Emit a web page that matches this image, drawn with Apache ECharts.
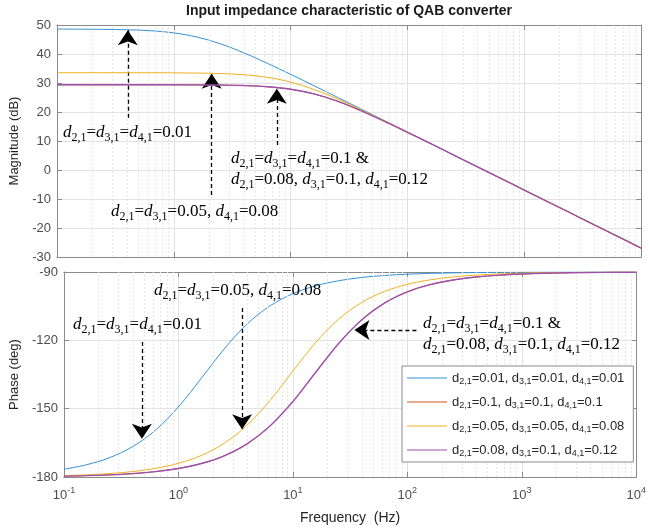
<!DOCTYPE html>
<html><head><meta charset="utf-8">
<script src="https://cdn.jsdelivr.net/npm/echarts@6/dist/echarts.min.js"></script>
<style>html,body{margin:0;padding:0;background:#fff}#c{width:649px;height:529px}</style>
</head><body><div id="c"></div>
<script>
// ---- data ----
const freq = [0.1,0.158,0.251,0.398,0.631,1,1.585,2.512,3.981,6.31,10,15.85,25.12,39.81,63.1,100,158.5,251.2,398.1,631,1000,1585,2512,3981,6310,10000];
const seriesNames = ['d2,1=0.01, d3,1=0.01, d4,1=0.01','d2,1=0.1, d3,1=0.1, d4,1=0.1','d2,1=0.05, d3,1=0.05, d4,1=0.08','d2,1=0.08, d3,1=0.1, d4,1=0.12'];
const colors = ['#3493d6','#D95319','#EDB120','#9c52ad'];
const magBlue   = [48.59,48.56,48.50,48.36,48.03,47.28,45.84,43.50,40.40,36.81,32.99,29.06,25.09,21.10,17.10,13.11,9.10,5.10,1.10,-2.90,-6.90,-10.90,-14.90,-18.90,-22.90,-26.90];
const magRed    = [29.40,29.40,29.40,29.40,29.39,29.38,29.35,29.29,29.12,28.72,27.86,26.24,23.73,20.50,16.85,13.00,9.06,5.08,1.09,-2.91,-6.90,-10.90,-14.90,-18.90,-22.90,-26.90];
const magYellow = [33.55,33.55,33.55,33.54,33.53,33.50,33.43,33.26,32.85,31.96,30.31,27.77,24.53,20.86,17.01,13.07,9.09,5.10,1.10,-2.90,-6.90,-10.90,-14.90,-18.90,-22.90,-26.90];
const magPurple = [29.40,29.40,29.40,29.40,29.39,29.38,29.35,29.29,29.12,28.72,27.86,26.24,23.73,20.50,16.85,13.00,9.06,5.08,1.09,-2.91,-6.90,-10.90,-14.90,-18.90,-22.90,-26.90];
const phBlue   = [-176.59,-174.61,-171.50,-166.67,-159.42,-149.24,-136.67,-123.78,-112.87,-104.91,-99.54,-96.05,-93.83,-92.42,-91.53,-90.96,-90.61,-90.38,-90.24,-90.15,-90.10,-90.06,-90.04,-90.02,-90.02,-90.01];
const phRed    = [-179.63,-179.41,-179.06,-178.51,-177.64,-176.26,-174.09,-170.68,-165.43,-157.60,-146.85,-134.01,-121.36,-111.04,-103.64,-98.70,-95.52,-93.49,-92.20,-91.39,-90.88,-90.55,-90.35,-90.22,-90.14,-90.09];
const phYellow = [-179.40,-179.04,-178.49,-177.60,-176.20,-173.99,-170.53,-165.19,-157.26,-146.41,-133.52,-120.94,-110.72,-103.42,-98.56,-95.42,-93.43,-92.17,-91.37,-90.86,-90.54,-90.34,-90.22,-90.14,-90.09,-90.05];
const phPurple = [-179.63,-179.41,-179.06,-178.51,-177.64,-176.26,-174.09,-170.68,-165.43,-157.60,-146.85,-134.01,-121.36,-111.04,-103.64,-98.70,-95.52,-93.49,-92.20,-91.39,-90.88,-90.55,-90.35,-90.22,-90.14,-90.09];
const magTicks = {min:-30, max:50, interval:10};
const phaseTicks = {min:-180, max:-90, interval:30};
// arrows [fromFreq, fromVal, toFreq, toVal]
const magArrows = [[0.404,18,0.404,48.2],[2.11,-8.6,2.11,33.2],[7.62,8.6,7.62,28.0]];
const phaseArrows = [[0.48,-120.7,0.48,-163.2],[3.6,-105.8,3.6,-159.0],[120,-115.5,34.5,-115.5]];
const annotations = [
  {t:'d2,1=d3,1=d4,1=0.01', x:63, y:135},
  {t:'d2,1=d3,1=d4,1=0.1 &', x:231, y:161},
  {t:'d2,1=0.08, d3,1=0.1, d4,1=0.12', x:231, y:182},
  {t:'d2,1=d3,1=0.05, d4,1=0.08', x:111, y:214},
  {t:'d2,1=d3,1=0.05, d4,1=0.08', x:154, y:293},
  {t:'d2,1=d3,1=d4,1=0.01', x:73, y:327},
  {t:'d2,1=d3,1=d4,1=0.1 &', x:423, y:326},
  {t:'d2,1=0.08, d3,1=0.1, d4,1=0.12', x:423, y:347}
];

// ---- build ----
const minorFreqs = [];
for (let e=-1;e<4;e++) for (let k=2;k<=9;k++) minorFreqs.push(+(k*Math.pow(10,e)).toPrecision(3));
const pairs = (ys) => freq.map((f,i)=>[f, ys[i]]);
const AX = '#8a8a8a', LBL = '#4d4d4d';
const sans = '"Liberation Sans", Arial, sans-serif';
const serif = '"Liberation Serif", "Times New Roman", serif';
const widths = [1, 1, 1, 1.4];

function minorML(){
  return {silent:true, symbol:['none','none'], label:{show:false},
    lineStyle:{color:'#e6e6e6', type:[2,2], width:1}, emphasis:{disabled:true},
    data: minorFreqs.map(v=>({xAxis:v}))};
}
function arrowML(arr){
  return {silent:true, symbol:['none','arrow'], symbolSize:15, label:{show:false},
    lineStyle:{color:'#000', type:[4,3], width:1.3, opacity:1}, itemStyle:{color:'#000'}, emphasis:{disabled:true},
    data: arr.map(a=>[{coord:[a[0],a[1]], symbol:'none'},{coord:[a[2],a[3]], symbol:'arrow', symbolSize:15}])};
}
function richAnno(s){
  return s.split(/(d\d,\d)/).filter(p=>p).map(p=>{
    const m = p.match(/^d(\d,\d)$/);
    return m ? '{i|d}{s|'+m[1]+'}' : '{n|'+p+'}';
  }).join('');
}
const annoRich = {
  i:{fontFamily:serif, fontStyle:'italic', fontSize:17, lineHeight:22, fill:'#000'},
  n:{fontFamily:serif, fontSize:17, lineHeight:22, fill:'#000'},
  s:{fontFamily:serif, fontSize:12, lineHeight:12, verticalAlign:'bottom', fill:'#000'}
};

const magData = [magBlue, magRed, magYellow, magPurple];
const phData = [phBlue, phRed, phYellow, phPurple];
const series = [];
magData.forEach((d,i)=>series.push({
  name: seriesNames[i], type:'line', xAxisIndex:0, yAxisIndex:0, data: pairs(d),
  symbol:'none', smooth:0.35, lineStyle:{width:widths[i], color:colors[i]}, itemStyle:{color:colors[i]},
  z: 3+i, clip:true,
  markLine: i===0 ? minorML() : (i===3 ? arrowML(magArrows) : undefined)
}));
phData.forEach((d,i)=>series.push({
  name: seriesNames[i], type:'line', xAxisIndex:1, yAxisIndex:1, data: pairs(d),
  symbol:'none', smooth:0.35, lineStyle:{width:widths[i], color:colors[i]}, itemStyle:{color:colors[i]},
  z: 3+i, clip:true,
  markLine: i===0 ? minorML() : (i===3 ? arrowML(phaseArrows) : undefined)
}));

function xAx(grid, pos, labels){
  return {type:'log', logBase:10, min:0.1, max:10000, gridIndex:grid, position:pos,
    axisLine:{show:true, onZero:false, lineStyle:{color:AX}},
    axisTick:{show:true, inside:true, length:5, lineStyle:{color:AX}},
    splitLine:{show: pos==='bottom', lineStyle:{color:'#e2e2e2', width:1}},
    axisLabel: labels ? {show:true, margin:9, color:LBL,
      formatter: v => '{b|10}{sup|' + Math.round(Math.log10(v)) + '}',
      rich:{b:{fontFamily:sans, fontSize:13, color:LBL, lineHeight:18},
            sup:{fontFamily:sans, fontSize:9, color:LBL, lineHeight:10, verticalAlign:'top'}}} : {show:false},
    name: labels ? 'Frequency  (Hz)' : '', nameLocation:'middle', nameGap:34,
    nameTextStyle:{fontFamily:sans, fontSize:14, color:'#262626'}};
}
function yAx(grid, pos, t, name){
  return {type:'value', gridIndex:grid, position:pos, min:t.min, max:t.max, interval:t.interval,
    axisLine:{show:true, lineStyle:{color:AX}},
    axisTick:{show:true, inside:true, length:5, lineStyle:{color:AX}},
    splitLine:{show: pos==='left', lineStyle:{color:'#e2e2e2', width:1}},
    axisLabel: pos==='left' ? {show:true, margin:6, color:LBL, fontFamily:sans, fontSize:13} : {show:false},
    name: name||'', nameLocation:'middle', nameGap:32,
    nameTextStyle:{fontFamily:sans, fontSize:13, color:'#262626'}};
}

const graphic = [{type:'text', x:349, y:11, style:{text:'Input impedance characteristic of QAB converter',
  font:'bold 14px "Liberation Sans", Arial, sans-serif', fill:'#1a1a1a', textAlign:'center', textVerticalAlign:'middle'}}];
annotations.forEach(a=>graphic.push({type:'text', left:a.x, top:a.y-11, z:100,
  style:{text:richAnno(a.t), rich:annoRich}}));

const option = {
  animation:false,
  backgroundColor:'#fff',
  grid:[
    {left:57, top:25, width:584, height:232, show:false},
    {left:57, top:272, width:584, height:205, show:false}
  ],
  xAxis:[xAx(0,'bottom',false), xAx(1,'bottom',true), xAx(0,'top',false), xAx(1,'top',false)],
  yAxis:[yAx(0,'left',magTicks,'Magnitude (dB)'), yAx(1,'left',phaseTicks,'Phase (deg)'),
         yAx(0,'right',magTicks), yAx(1,'right',phaseTicks)],
  legend:{data:seriesNames, orient:'vertical', left:402, top:366, z:50,
    backgroundColor:'#fff', borderColor:AX, borderWidth:1, padding:[4,9,4,5],
    itemWidth:40, itemHeight:14, itemGap:8, icon:'path://M0,7 L40,7 L40,8 L0,8 Z',
    textStyle:{fontFamily:sans, fontSize:13, color:'#262626', lineHeight:16,
      rich:{s:{fontFamily:sans, fontSize:9, color:'#262626', lineHeight:10, verticalAlign:'bottom'}}},
    formatter: n => n.replace(/d(\d,\d)/g, 'd{s|$1}'), selectedMode:false},
  graphic: graphic,
  series: series
};
const chart = echarts.init(document.getElementById('c'), null, {renderer:'canvas'});
chart.setOption(option);
</script></body></html>
